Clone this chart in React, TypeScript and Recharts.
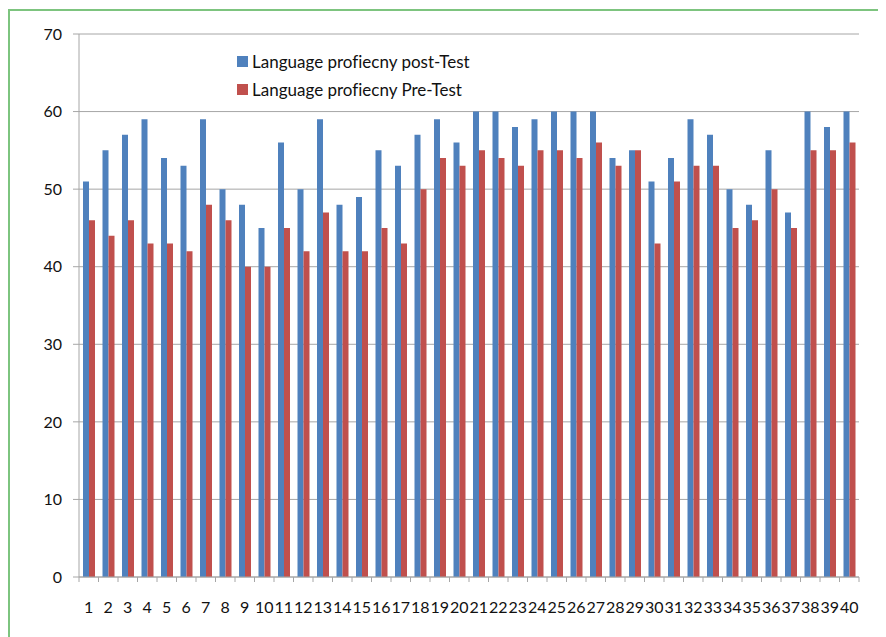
import { Bar, BarChart, CartesianGrid, Legend, XAxis, YAxis } from "recharts";

const students = Array.from({ length: 40 }, (_, i) => String(i + 1));

const postTest = [
  51, 55, 57, 59, 54, 53, 59, 50, 48, 45, 56, 50, 59, 48, 49, 55, 53, 57, 59, 56,
  60, 60, 58, 59, 60, 60, 60, 54, 55, 51, 54, 59, 57, 50, 48, 55, 47, 60, 58, 60,
];

const preTest = [
  46, 44, 46, 43, 43, 42, 48, 46, 40, 40, 45, 42, 47, 42, 42, 45, 43, 50, 54, 53,
  55, 54, 53, 55, 55, 54, 56, 53, 55, 43, 51, 53, 53, 45, 46, 50, 45, 55, 55, 56,
];

const yTicks = [0, 10, 20, 30, 40, 50, 60, 70];

const data = students.map((name, i) => ({
  name,
  post: postTest[i],
  pre: preTest[i],
}));

const W = 870;
const H = 629;
const margin = { top: 26, right: 19, left: 11, bottom: 20 };
const Y_AXIS_W = 60;
const STEP = (W - margin.left - margin.right - Y_AXIS_W) / students.length;

const FONT = "Lato, 'Open Sans', sans-serif";
const AXIS = "#a6a6a6";
const BLUE = "#4f81bd";
const RED = "#c0504d";

function XTick(props: any) {
  const { x, y, payload, index } = props;
  const last = index === students.length - 1;
  return (
    <g>
      <line x1={x - STEP / 2} x2={x - STEP / 2} y1={y} y2={y + 5} stroke={AXIS} />
      {last && (
        <line x1={x + STEP / 2} x2={x + STEP / 2} y1={y} y2={y + 5} stroke={AXIS} />
      )}
      <text
        x={x}
        y={y + 36}
        textAnchor="middle"
        fontSize={16}
        fontFamily={FONT}
        fill="#111"
      >
        {payload.value}
      </text>
    </g>
  );
}

function LegendBox() {
  const items = [
    { label: "Language profiecny post-Test", color: BLUE },
    { label: "Language profiecny Pre-Test", color: RED },
  ];
  return (
    <div
      style={{
        fontFamily: FONT,
        fontSize: 17,
        fontVariantLigatures: "none",
        color: "#111",
      }}
    >
      {items.map((it) => (
        <div
          key={it.label}
          style={{ display: "flex", alignItems: "center", height: 28, whiteSpace: "nowrap" }}
        >
          <span
            style={{
              display: "inline-block",
              width: 11,
              height: 11,
              background: it.color,
              marginRight: 4,
            }}
          />
          {it.label}
        </div>
      ))}
    </div>
  );
}

export default function App() {
  return (
    <div style={{ position: "relative", width: 878, height: H, overflow: "hidden" }}>
      <div
        style={{
          position: "absolute",
          left: 0,
          top: 1,
          width: 900,
          height: 700,
          borderLeft: "2px solid #7dc47f",
          borderTop: "2px solid #7dc47f",
        }}
      />
      <div style={{ position: "absolute", left: 0, top: 0 }}>
        <BarChart
          width={W}
          height={H}
          data={data}
          margin={margin}
          barSize={6}
          barGap={0}
        >
          <CartesianGrid vertical={false} stroke={AXIS} />
          <XAxis
            dataKey="name"
            interval={0}
            tickLine={false}
            tickSize={0}
            tickMargin={0}
            height={40}
            axisLine={{ stroke: AXIS }}
            tick={<XTick />}
          />
          <YAxis
            width={Y_AXIS_W}
            domain={[0, 70]}
            ticks={yTicks}
            interval={0}
            tickSize={6}
            tickMargin={11}
            axisLine={{ stroke: AXIS }}
            tickLine={{ stroke: AXIS }}
            tick={{ fill: "#111", fontSize: 16, fontFamily: FONT }}
          />
          <Legend
            layout="vertical"
            align="center"
            verticalAlign="middle"
            wrapperStyle={{ top: 39, left: 229, width: "auto" }}
            content={<LegendBox />}
          />
          <Bar dataKey="post" name="Language profiecny post-Test" fill={BLUE} isAnimationActive={false} />
          <Bar dataKey="pre" name="Language profiecny Pre-Test" fill={RED} isAnimationActive={false} />
        </BarChart>
      </div>
    </div>
  );
}
